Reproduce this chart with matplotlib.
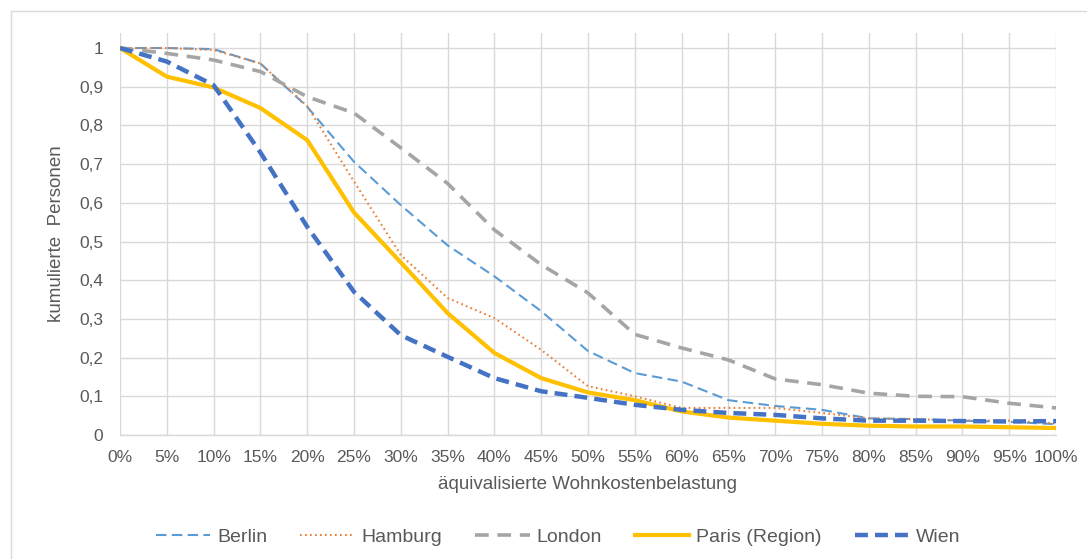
import matplotlib
matplotlib.use("Agg")
import matplotlib.pyplot as plt
from matplotlib.patches import Rectangle
from matplotlib.ticker import FixedLocator, FuncFormatter

plt.rcParams['font.family'] = ['Liberation Sans', 'DejaVu Sans']

# Housing cost burden steps (percent)
belastung = [0, 5, 10, 15, 20, 25, 30, 35, 40, 45, 50,
             55, 60, 65, 70, 75, 80, 85, 90, 95, 100]

berlin = [1.0, 1.0, 0.997, 0.96, 0.848, 0.706, 0.594, 0.49, 0.41, 0.32, 0.217,
          0.16, 0.138, 0.09, 0.075, 0.065, 0.043, 0.041, 0.037, 0.034, 0.028]
hamburg = [1.0, 1.0, 0.995, 0.96, 0.85, 0.655, 0.465, 0.354, 0.302, 0.22, 0.126,
           0.1, 0.07, 0.07, 0.07, 0.057, 0.043, 0.041, 0.037, 0.037, 0.03]
london = [1.0, 0.986, 0.969, 0.939, 0.874, 0.832, 0.742, 0.65, 0.53, 0.44, 0.367,
          0.26, 0.225, 0.194, 0.145, 0.13, 0.108, 0.1, 0.099, 0.082, 0.07]
paris = [1.0, 0.926, 0.898, 0.845, 0.762, 0.575, 0.446, 0.315, 0.212, 0.147, 0.11,
         0.09, 0.061, 0.045, 0.037, 0.029, 0.024, 0.022, 0.022, 0.02, 0.018]
wien = [1.0, 0.965, 0.904, 0.73, 0.538, 0.37, 0.258, 0.202, 0.147, 0.113, 0.096,
        0.078, 0.065, 0.057, 0.052, 0.043, 0.037, 0.037, 0.036, 0.035, 0.036]

y_ticks = [0, 0.1, 0.2, 0.3, 0.4, 0.5, 0.6, 0.7, 0.8, 0.9, 1.0]

W, H = 1087, 559
fig = plt.figure(figsize=(W / 100, H / 100), dpi=100)
fig.patch.set_facecolor('white')

# light outer chart frame
fig.patches.append(Rectangle((11 / W, -0.2), 1.3, 1 - 11 / H + 0.2,
                             transform=fig.transFigure, fill=False,
                             edgecolor='#D9D9D9', linewidth=1.0))

left, right = 120 / W, 1056 / W
bottom, top = 1 - 435 / H, 1 - 33 / H
ax = fig.add_axes([left, bottom, right - left, top - bottom])

grid_c = '#D9D9D9'
text_c = '#595959'

l1, = ax.plot(belastung, berlin, color='#5B9BD5', lw=1.5, label='Berlin')
l1.set_dashes((5, 2.6))
l2, = ax.plot(belastung, hamburg, color='#ED7D31', lw=1.5, label='Hamburg')
l2.set_dashes((0.8, 1.6))
l3, = ax.plot(belastung, london, color='#A5A5A5', lw=2.6, label='London')
l3.set_dashes((3.8, 2.4))
l4, = ax.plot(belastung, paris, color='#FFC000', lw=3.0, label='Paris (Region)',
              solid_joinstyle='round')
l5, = ax.plot(belastung, wien, color='#4472C4', lw=3.2, label='Wien')
l5.set_dashes((2.9, 1.6))

ax.set_xlim(0, 100)
ax.set_ylim(0, (435 - 33) / 387)
ax.xaxis.set_major_locator(FixedLocator(belastung))
ax.yaxis.set_major_locator(FixedLocator(y_ticks))
ax.xaxis.set_major_formatter(FuncFormatter(lambda v, p: f"{int(round(v))}%"))
ax.yaxis.set_major_formatter(
    FuncFormatter(lambda v, p: ("%g" % round(v, 1)).replace('.', ',')))

ax.grid(True, color=grid_c, lw=1.0)
ax.set_axisbelow(True)
for side in ('top', 'right', 'left'):
    ax.spines[side].set_visible(False)
ax.spines['bottom'].set_color(grid_c)
ax.spines['bottom'].set_linewidth(1.0)
ax.tick_params(length=0, colors=text_c, labelsize=12.5)
ax.tick_params(axis='x', pad=11)
ax.tick_params(axis='y', pad=12)

ax.set_xlabel('äquivalisierte Wohnkostenbelastung', color=text_c, fontsize=13.5,
              labelpad=8)
ax.set_ylabel('kumulierte  Personen', color=text_c, fontsize=13.5, labelpad=10)

fig.legend(handles=[l1, l2, l3, l4, l5], loc='center',
           bbox_to_anchor=(558 / W, 1 - 537 / H), ncol=5, frameon=False,
           fontsize=14, handlelength=2.8, handletextpad=0.35, columnspacing=1.7,
           labelcolor=text_c)

fig.savefig('out.png', dpi=100, facecolor='white')
